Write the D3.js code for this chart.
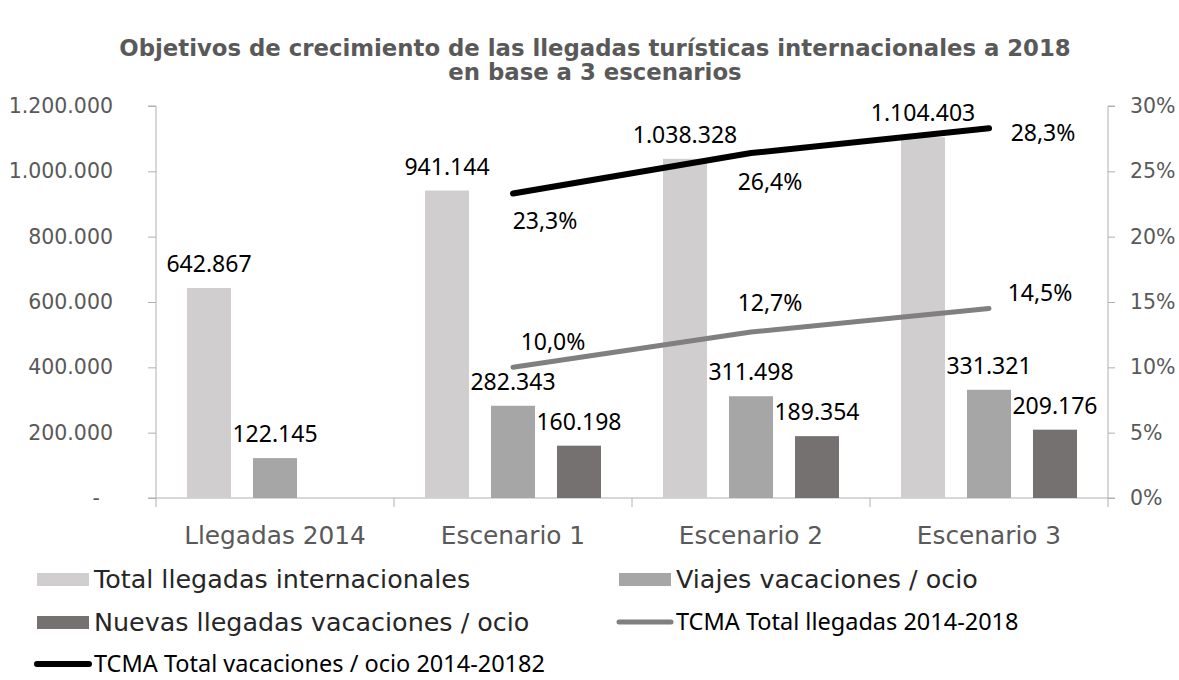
<!DOCTYPE html>
<html lang="es">
<head>
  <meta charset="UTF-8">
  <title>Objetivos de crecimiento</title>
  <style>
    body { margin: 0; background: #fff; }
    .axis path, .axis line { stroke: #b0b0b0; }
    .axis text { fill: #595959; font-family: "DejaVu Sans", sans-serif; }
    .lbl { font-family: "Noto Sans", sans-serif; font-size: 23px; fill: #000; }
  </style>
</head>
<body>
  <script src="https://cdn.jsdelivr.net/npm/d3@7"></script>
  <script>
    const categories = ['Llegadas 2014', 'Escenario 1', 'Escenario 2', 'Escenario 3'];
    const totalLlegadas = [642867, 941144, 1038328, 1104403];
    const viajesOcio = [122145, 282343, 311498, 331321];
    const nuevasOcio = [null, 160198, 189354, 209176];
    const tcmaLlegadas = [null, 10.0, 12.7, 14.5];
    const tcmaOcio = [null, 23.3, 26.4, 28.3];
    const leftTicks = [0, 200000, 400000, 600000, 800000, 1000000, 1200000];
    const rightTicks = [0, 5, 10, 15, 20, 25, 30];

    const width = 1179, height = 680;
    const m = { left: 156, right: 1108, top: 106, bottom: 498 };

    const svg = d3.select('body').append('svg')
      .attr('width', width)
      .attr('height', height);

    const loc = d3.formatLocale({ decimal: ',', thousands: '.', grouping: [3], currency: ['', ''] });
    const fmtN = loc.format(',d');
    const fmtP = loc.format('.1f');

    const x = d3.scaleBand().domain(categories).range([m.left, m.right]);
    const yL = d3.scaleLinear().domain([0, 1200000]).range([m.bottom, m.top]);
    const yR = d3.scaleLinear().domain([0, 30]).range([m.bottom, m.top]);

    const barSeries = [
      { name: 'Total llegadas internacionales', values: totalLlegadas, color: '#d0cece' },
      { name: 'Viajes vacaciones / ocio', values: viajesOcio, color: '#a6a6a6' },
      { name: 'Nuevas llegadas vacaciones / ocio', values: nuevasOcio, color: '#767171' }
    ];
    const lineSeries = [
      { name: 'TCMA Total llegadas 2014-2018', values: tcmaLlegadas, color: '#808080', w: 5,
        off: [null, [40, -25], [19, -29], [51, -16]] },
      { name: 'TCMA Total vacaciones / ocio 2014-20182', values: tcmaOcio, color: '#000', w: 6,
        off: [null, [32, 27], [19, 29], [54, 5]] }
    ];

    // inner band for the three bars
    const xb = d3.scaleBand().domain([0, 1, 2]).range([31, x.bandwidth() - 31]).paddingInner(0.333);

    // title
    const title = svg.append('text')
      .attr('text-anchor', 'middle')
      .style('font-family', '"DejaVu Sans", sans-serif')
      .style('font-weight', 'bold')
      .style('font-size', '22.8px')
      .style('fill', '#595959');
    title.append('tspan').attr('x', 595).attr('y', 56)
      .text('Objetivos de crecimiento de las llegadas turísticas internacionales a 2018');
    title.append('tspan').attr('x', 595).attr('y', 80).text('en base a 3 escenarios');

    // axes
    svg.append('g').attr('class', 'axis')
      .attr('transform', `translate(${m.left},0)`)
      .call(d3.axisLeft(yL).tickValues(leftTicks).tickSize(8).tickPadding(35)
        .tickFormat(d => d === 0 ? '-  ' : fmtN(d)))
      .call(g => g.selectAll('text').attr('xml:space', 'preserve').style('font-size', '20.5px'))
      .call(g => g.select('.domain').attr('d', `M-8,${m.top}H0V${m.bottom}H-8`));

    svg.append('g').attr('class', 'axis')
      .attr('transform', `translate(${m.right},0)`)
      .call(d3.axisRight(yR).tickValues(rightTicks).tickSize(7).tickPadding(15)
        .tickFormat(d => d + '%'))
      .call(g => g.selectAll('text').style('font-size', '20.5px'))
      .call(g => g.select('.domain').attr('d', `M7,${m.top}H0V${m.bottom}H7`));

    const xAxis = svg.append('g').attr('class', 'axis')
      .attr('transform', `translate(0,${m.bottom})`)
      .call(d3.axisBottom(x).tickSize(0).tickPadding(28));
    xAxis.selectAll('text').style('font-size', '24.8px');
    xAxis.select('.domain').attr('d', `M${m.left},0H${m.right}`);
    xAxis.selectAll('.sep')
      .data(categories.map(c => x(c)).concat([m.right]))
      .join('line').attr('class', 'sep')
      .attr('x1', d => d).attr('x2', d => d).attr('y1', 0).attr('y2', 9);

    // bars
    barSeries.forEach((s, i) => {
      const pts = categories.map((c, j) => ({ c, v: s.values[j] })).filter(d => d.v != null);
      svg.append('g').selectAll('rect').data(pts).join('rect')
        .attr('x', d => x(d.c) + xb(i))
        .attr('width', xb.bandwidth())
        .attr('y', d => yL(d.v))
        .attr('height', d => m.bottom - yL(d.v))
        .attr('fill', s.color);
      svg.append('g').selectAll('text').data(pts).join('text')
        .attr('class', 'lbl')
        .attr('x', d => x(d.c) + xb(i) + xb.bandwidth() / 2)
        .attr('y', d => yL(d.v) - 16)
        .attr('text-anchor', 'middle')
        .text(d => fmtN(d.v));
    });

    // lines
    lineSeries.forEach(s => {
      const pts = categories.map((c, j) => ({ c, v: s.values[j], o: s.off[j] })).filter(d => d.v != null);
      const line = d3.line().x(d => x(d.c) + x.bandwidth() / 2).y(d => yR(d.v));
      svg.append('path').datum(pts)
        .attr('d', line)
        .attr('fill', 'none')
        .attr('stroke', s.color)
        .attr('stroke-width', s.w)
        .attr('stroke-linecap', 'round')
        .attr('stroke-linejoin', 'round');
      svg.append('g').selectAll('text').data(pts).join('text')
        .attr('class', 'lbl')
        .attr('x', d => x(d.c) + x.bandwidth() / 2 + d.o[0])
        .attr('y', d => yR(d.v) + d.o[1])
        .attr('dy', '0.35em')
        .attr('text-anchor', 'middle')
        .text(d => fmtP(d.v) + '%');
    });

    // legend
    const legendItems = [
      { s: barSeries[0], type: 'bar', x: 37, y: 579 },
      { s: barSeries[1], type: 'bar', x: 619, y: 579 },
      { s: barSeries[2], type: 'bar', x: 37, y: 622 },
      { s: lineSeries[0], type: 'line', x: 619, y: 622 },
      { s: lineSeries[1], type: 'line', x: 37, y: 664 }
    ];
    const lg = svg.append('g').selectAll('g').data(legendItems).join('g')
      .attr('transform', d => `translate(${d.x},${d.y})`);
    lg.filter(d => d.type === 'bar').append('rect')
      .attr('x', 0).attr('y', -6).attr('width', 52).attr('height', 13)
      .attr('fill', d => d.s.color);
    lg.filter(d => d.type === 'line').append('line')
      .attr('x1', 0).attr('x2', 52).attr('y1', 0).attr('y2', 0)
      .attr('stroke', d => d.s.color).attr('stroke-width', d => d.s.w)
      .attr('stroke-linecap', 'round');
    lg.append('text')
      .attr('x', 57).attr('dy', '0.35em')
      .style('font-family', d => d.type === 'bar' ? '"DejaVu Sans", sans-serif' : '"Noto Sans", sans-serif')
      .style('font-size', d => d.type === 'bar' ? '25.4px' : '23.5px')
      .style('fill', d => d.type === 'bar' ? '#262626' : '#000')
      .text(d => d.s.name);
  </script>
</body>
</html>
